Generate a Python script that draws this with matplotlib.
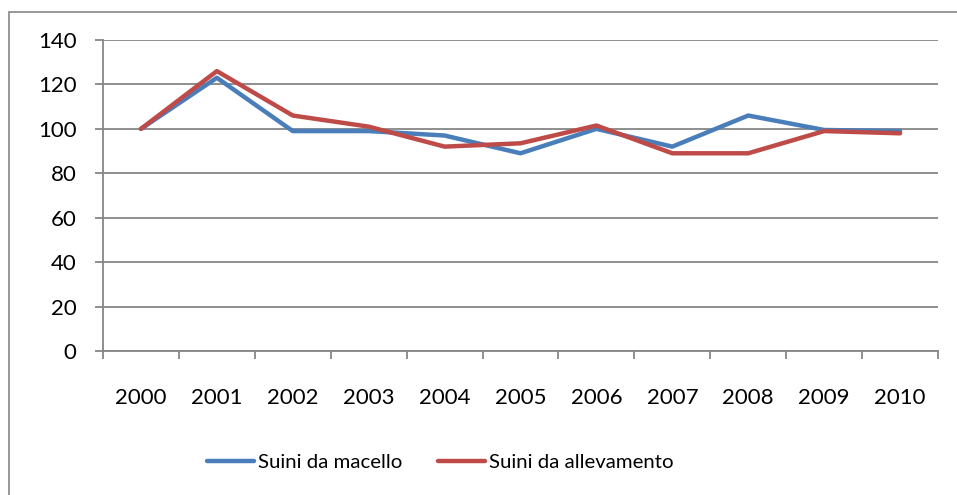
import numpy as np
import matplotlib.pyplot as plt
from matplotlib.patches import Rectangle

plt.rcParams['font.family'] = ['Lato', 'DejaVu Sans']

# dati
anni = ['2000', '2001', '2002', '2003', '2004', '2005', '2006', '2007', '2008', '2009', '2010']
macello = [100, 123, 99, 99, 97, 89, 100, 92, 106, 99.5, 99]
allevamento = [100, 126, 106, 101, 92, 93.5, 101.5, 89, 89, 99, 98]

grigio = '#868686'

fig = plt.figure(figsize=(9.57, 4.95), dpi=100)
ax = fig.add_axes([103 / 957, 1 - 351 / 495, 835 / 957, 311 / 495])

x = np.arange(len(anni))
ax.plot(x, macello, color='#4A7EBB', lw=3.2, solid_capstyle='round', label='Suini da macello')
ax.plot(x, allevamento, color='#BE4B48', lw=3.2, solid_capstyle='round', label='Suini da allevamento')

ax.set_xlim(-0.5, len(anni) - 0.5)
ax.set_ylim(0, 140)
ax.set_yticks(np.arange(0, 141, 20))
ax.set_xticks(x)
ax.set_xticklabels(anni)
ax.set_xticks(np.arange(-0.5, len(anni)), minor=True)

ax.yaxis.grid(True, color=grigio, lw=1.3)
ax.set_axisbelow(True)
for s in ['top', 'right']:
    ax.spines[s].set_visible(False)
for s in ['left', 'bottom']:
    ax.spines[s].set_color(grigio)
    ax.spines[s].set_linewidth(1.3)

ax.tick_params(axis='y', length=6, width=1.3, color=grigio, labelsize=16, pad=13)
ax.tick_params(axis='x', which='major', length=0, labelsize=16, pad=27)
ax.tick_params(axis='x', which='minor', length=6, width=1.3, color=grigio)

fig.legend(loc='center', bbox_to_anchor=(440 / 957, 1 - 462 / 495), ncol=2, frameon=False,
           fontsize=14.7, handlelength=2.3, handletextpad=0.2, columnspacing=1.75)

# cornice esterna
fig.patches.append(Rectangle((9 / 957, -0.1), 1.2, 1 - 12 / 495 + 0.1, transform=fig.transFigure,
                             fill=False, edgecolor=grigio, lw=1.2))

fig.savefig('out.png', dpi=100)
